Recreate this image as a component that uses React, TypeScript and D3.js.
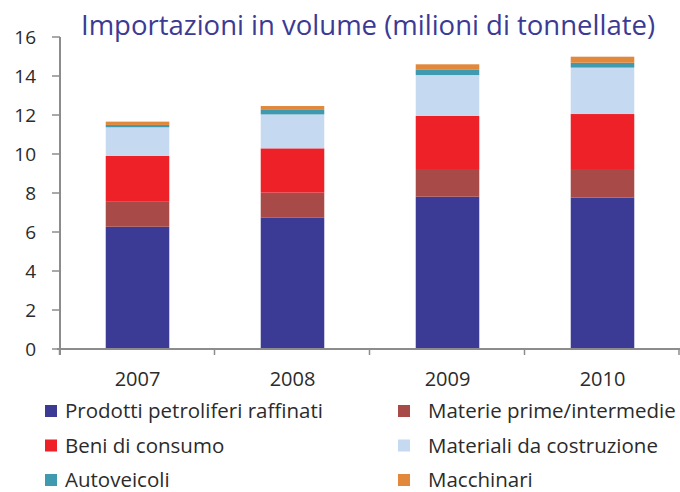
import React, { useEffect, useRef } from 'react';
import * as d3 from 'd3';

const years = ['2007', '2008', '2009', '2010'];
const seriesNames = [
  'Prodotti petroliferi raffinati',
  'Materie prime/intermedie',
  'Beni di consumo',
  'Materiali da costruzione',
  'Autoveicoli',
  'Macchinari',
];
const petroliferi = [6.27, 6.73, 7.81, 7.76];
const materiePrime = [1.28, 1.29, 1.42, 1.47];
const beniConsumo = [2.35, 2.27, 2.72, 2.82];
const materialiCostruzione = [1.47, 1.74, 2.1, 2.38];
const autoveicoli = [0.12, 0.23, 0.29, 0.25];
const macchinari = [0.17, 0.2, 0.26, 0.31];
const yTicks = [0, 2, 4, 6, 8, 10, 12, 14, 16];
const colors = ['#3b3a94', '#a84a47', '#ee2129', '#c5d9f0', '#3f9aaf', '#e2883b'];

const App = () => {
  const svgRef = useRef<SVGSVGElement>(null);

  useEffect(() => {
    const svg = d3.select(svgRef.current);
    svg.selectAll('*').remove();

    const font = '"Open Sans", "DejaVu Sans", sans-serif';
    const values = [petroliferi, materiePrime, beniConsumo, materialiCostruzione, autoveicoli, macchinari];
    const rows = years.map((y, i) => {
      const r: any = { year: y };
      seriesNames.forEach((s, j) => { r[s] = values[j][i]; });
      return r;
    });
    const stacked = d3.stack().keys(seriesNames)(rows);

    const x = d3.scaleBand().domain(years).range([60, 680]).paddingInner(0.59).paddingOuter(0.295);
    const y = d3.scaleLinear().domain([0, 16]).range([349, 37]);

    // bars
    svg.append('g')
      .selectAll('g')
      .data(stacked)
      .enter()
      .append('g')
      .attr('fill', (d, i) => colors[i])
      .selectAll('rect')
      .data(d => d)
      .enter()
      .append('rect')
      .attr('x', (d: any) => x(d.data.year))
      .attr('width', x.bandwidth())
      .attr('y', d => y(d[1]))
      .attr('height', d => y(d[0]) - y(d[1]));

    const axisColor = '#8c8c8c';

    // y axis
    const yAxis = svg.append('g');
    yAxis.append('line')
      .attr('x1', 60).attr('x2', 60)
      .attr('y1', y(16)).attr('y2', 355)
      .attr('stroke', axisColor).attr('stroke-width', 2);
    yAxis.selectAll('.tick')
      .data(yTicks)
      .enter()
      .append('line')
      .attr('x1', 52).attr('x2', 60)
      .attr('y1', d => y(d)).attr('y2', d => y(d))
      .attr('stroke', axisColor).attr('stroke-width', 1.5);
    yAxis.selectAll('text')
      .data(yTicks)
      .enter()
      .append('text')
      .attr('x', 36)
      .attr('y', d => y(d))
      .attr('dy', '0.36em')
      .attr('text-anchor', 'end')
      .attr('font-family', font)
      .attr('font-size', 19)
      .attr('fill', '#2b2b2b')
      .text(d => d);

    // x axis
    const xAxis = svg.append('g');
    xAxis.append('line')
      .attr('x1', 57).attr('x2', 680)
      .attr('y1', y(0)).attr('y2', y(0))
      .attr('stroke', axisColor).attr('stroke-width', 2);
    const bounds = years.map(d => x(d)! - x.step() * x.paddingInner() / 2 - 0.5);
    bounds.push(680 - 1);
    xAxis.selectAll('.sep')
      .data(bounds)
      .enter()
      .append('line')
      .attr('x1', d => d).attr('x2', d => d)
      .attr('y1', y(0)).attr('y2', y(0) + 6)
      .attr('stroke', axisColor).attr('stroke-width', 1.5);
    xAxis.selectAll('text')
      .data(years)
      .enter()
      .append('text')
      .attr('x', d => x(d)! + x.bandwidth() / 2)
      .attr('y', 386)
      .attr('text-anchor', 'middle')
      .attr('font-family', font)
      .attr('font-size', 20)
      .attr('fill', '#2b2b2b')
      .text(d => d);

    // title
    svg.append('text')
      .attr('x', 368)
      .attr('y', 35)
      .attr('text-anchor', 'middle')
      .attr('font-family', font)
      .attr('font-size', 27.5)
      .attr('fill', '#3b3a94')
      .text('Importazioni in volume (milioni di tonnellate)');

    // legend
    const legend = svg.append('g')
      .selectAll('g')
      .data(seriesNames)
      .enter()
      .append('g')
      .attr('transform', (d, i) => `translate(${i % 2 === 0 ? 45 : 398}, ${411 + Math.floor(i / 2) * 34.5})`);
    legend.append('rect')
      .attr('x', 0).attr('y', -6)
      .attr('width', 12).attr('height', 12)
      .attr('fill', (d, i) => colors[i]);
    legend.append('text')
      .attr('x', (d, i) => (i % 2 === 0 ? 20 : 30))
      .attr('dy', '0.35em')
      .attr('font-family', font)
      .attr('font-size', 20.5)
      .attr('fill', '#2b2b2b')
      .text(d => d);
  }, []);

  return <svg ref={svgRef} width={680} height={492} style={{ position: 'absolute', left: 0, top: 0 }}></svg>;
};

export default App;
